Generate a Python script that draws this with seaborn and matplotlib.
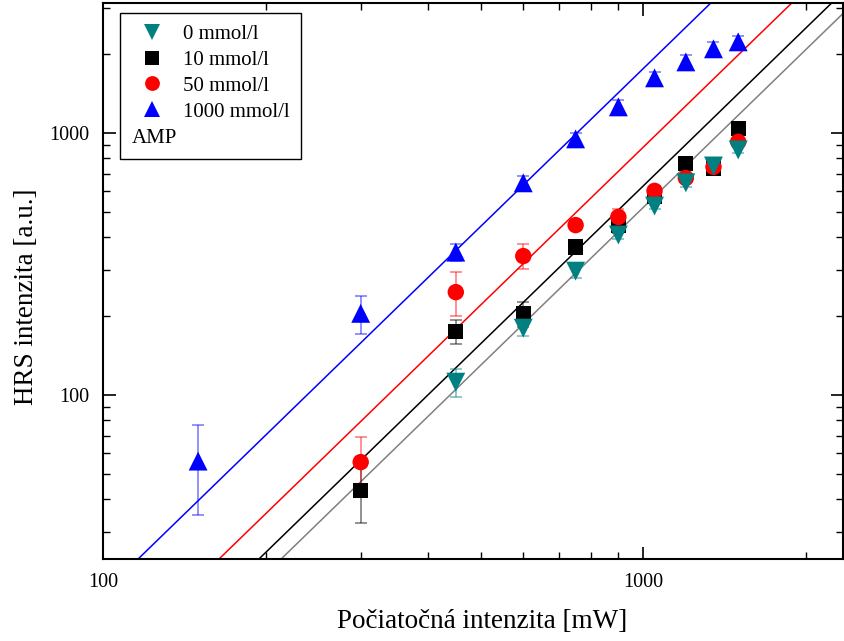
import numpy as np
import pandas as pd
import matplotlib
matplotlib.use("Agg")
import matplotlib.pyplot as plt
from matplotlib.ticker import LogLocator, FuncFormatter, NullFormatter
from matplotlib.lines import Line2D
import seaborn as sns

# ---- data ----
x_0 = [450, 600, 750, 900, 1050, 1200, 1350, 1500]
y_0 = [112, 180, 297, 408, 526, 645, 748, 861]
e_0 = [14, 12, 18, 15, 15, 25, 30, 20]

x_10 = [300, 450, 600, 750, 900, 1050, 1200, 1350, 1500]
y_10 = [43.4, 175, 204, 367, 442, 575, 762, 735, 1036]
e_10 = [11, 18, 22, 20, 25, 20, 30, 30, 30]

x_50 = [300, 450, 600, 750, 900, 1050, 1200, 1350, 1500]
y_50 = [55.5, 247, 339, 445, 478, 601, 673, 742, 925]
e_50 = [14, 47, 37, 20, 35, 25, 25, 30, 30]

x_1000 = [150, 300, 450, 600, 750, 900, 1050, 1200, 1350, 1500]
y_1000 = [56, 205, 351, 645, 949, 1257, 1622, 1866, 2093, 2225]
e_1000 = [21, 34, 25, 40, 50, 80, 90, 110, 120, 110]

labels = ["0 mmol/l", "10 mmol/l", "50 mmol/l", "1000 mmol/l"]
# quadratic fit lines y = a * x^2
fit_coef = [5.19e-4, 6.27e-4, 8.81e-4, 1.757e-3]
fit_exp = 2.0

# ---- styling ----
marker_colors = ["#008080", "#000000", "#FF0000", "#0000FF"]
line_colors = ["#808080", "#000000", "#FF0000", "#0000FF"]
markers = ["v", "s", "o", "^"]
sizes = [185, 120, 140, 185]
zorders = [8, 5, 6, 7]

sns.set_theme(style="ticks")
plt.rcParams["font.family"] = ["Liberation Serif", "DejaVu Serif"]
plt.rcParams["text.color"] = "black"
plt.rcParams["axes.labelcolor"] = "black"

fig = plt.figure(figsize=(8.45, 6.41), dpi=100)
ax = fig.add_axes([103 / 845, 1 - 559 / 641, 740 / 845, 556 / 641])
ax.set_xscale("log")
ax.set_yscale("log")
xlim = (100, 2345)
ylim = (23.7, 3130)
ax.set_xlim(*xlim)
ax.set_ylim(*ylim)

series = [(x_0, y_0, e_0), (x_10, y_10, e_10), (x_50, y_50, e_50), (x_1000, y_1000, e_1000)]

# fit lines
xf = np.logspace(np.log10(xlim[0]), np.log10(xlim[1]), 200)
for a, c in zip(fit_coef, line_colors):
    dfl = pd.DataFrame({"x": xf, "y": a * xf ** fit_exp})
    sns.lineplot(data=dfl, x="x", y="y", color=c, lw=1.1, ax=ax, zorder=2)

# error bars
for (xs, ys, es), c in zip(series, marker_colors):
    ax.errorbar(xs, ys, yerr=es, fmt="none", ecolor=c, alpha=0.5, elinewidth=1.2,
                capsize=4.5, capthick=1.2, zorder=3)

# markers
handles = []
for (xs, ys, es), c, m, s, lab, z in zip(series, marker_colors, markers, sizes, labels, zorders):
    dfp = pd.DataFrame({"x": xs, "y": ys})
    sns.scatterplot(data=dfp, x="x", y="y", marker=m, color=c, s=s, edgecolor="none",
                    linewidth=0, ax=ax, zorder=z)
    handles.append(Line2D([], [], ls="none", marker=m, color=c, markeredgewidth=0,
                          markersize=np.sqrt(s) * (0.85 if m in ("v", "^") else 0.9)))

handles.append(Line2D([], [], ls="none"))
leg = ax.legend(handles, labels + [" "], loc="upper left", bbox_to_anchor=(0.023, 0.982),
                borderaxespad=0, frameon=True, fancybox=False, framealpha=1,
                edgecolor="black", fontsize=15, borderpad=0.55, handlelength=2.0,
                handletextpad=0.45, labelspacing=0.3)
leg.get_frame().set_linewidth(1.0)
leg.set_zorder(20)
for t in leg.get_texts():
    t.set_color("black")
ax.text(0.039, 0.757, "AMP", transform=ax.transAxes, fontsize=15, va="center",
        ha="left", zorder=30, color="black")

# axes formatting
ax.set_xlabel("Počiatočná intenzita [mW]", fontsize=19.5, color="black")
ax.set_ylabel("HRS intenzita [a.u.]", fontsize=19.5, color="black")
ax.xaxis.set_label_coords(0.512, -0.09)
ax.yaxis.set_label_coords(-0.086, 0.471)
ax.xaxis.set_major_locator(LogLocator(base=10))
ax.yaxis.set_major_locator(LogLocator(base=10))
ax.xaxis.set_minor_locator(LogLocator(base=10, subs=np.arange(2, 10)))
ax.yaxis.set_minor_locator(LogLocator(base=10, subs=np.arange(2, 10)))
fmt = FuncFormatter(lambda v, p: f"{int(round(v))}")
ax.xaxis.set_major_formatter(fmt)
ax.yaxis.set_major_formatter(fmt)
ax.xaxis.set_minor_formatter(NullFormatter())
ax.yaxis.set_minor_formatter(NullFormatter())
ax.tick_params(which="both", direction="in", top=True, right=True, colors="black",
               labelcolor="black", labelsize=14.5)
ax.tick_params(which="major", length=9, width=1.2, pad=10)
ax.tick_params(which="minor", length=5, width=1.0)
for sp in ax.spines.values():
    sp.set_linewidth(1.5)
    sp.set_color("black")
ax.grid(False)
ax.set_facecolor("white")
fig.patch.set_facecolor("white")

fig.savefig("out.png", dpi=100)
